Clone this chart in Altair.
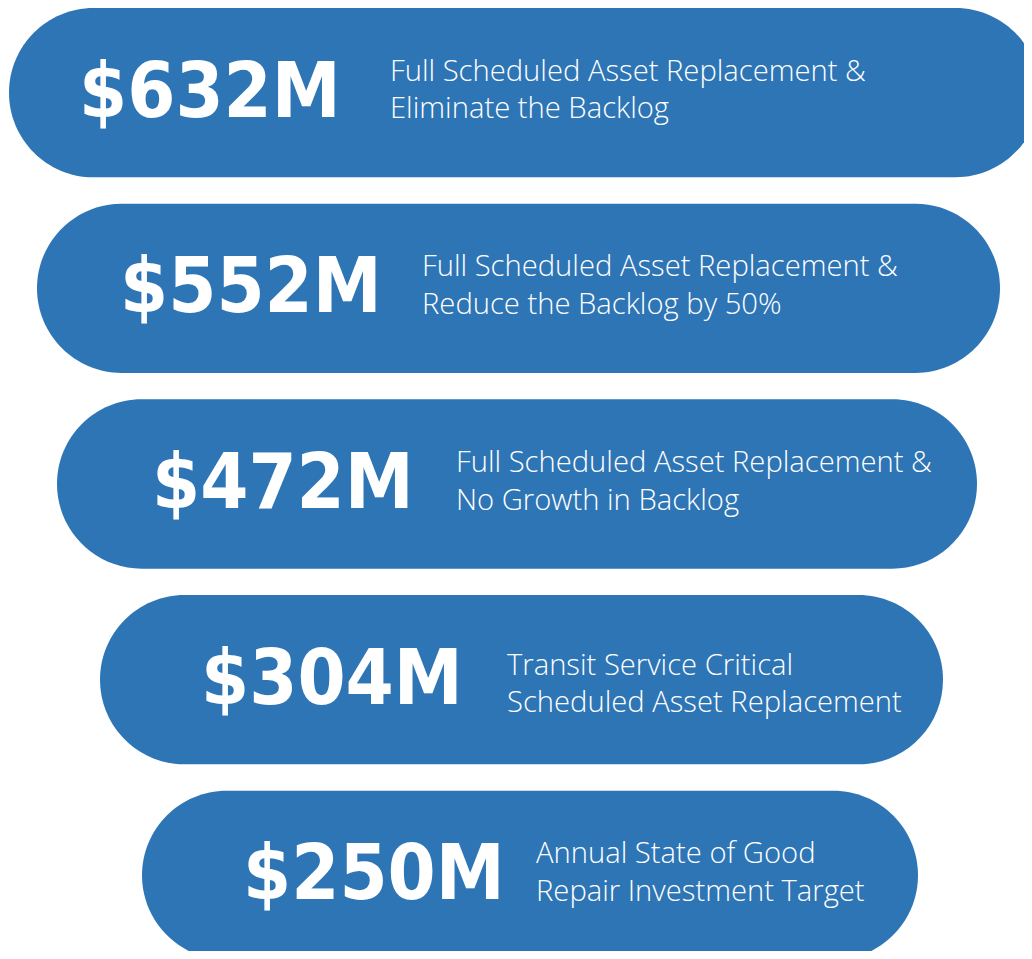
import altair as alt
import pandas as pd

# data
amounts = ["$632M", "$552M", "$472M", "$304M", "$250M"]
descriptions = [
    "Full Scheduled Asset Replacement &\nEliminate the Backlog",
    "Full Scheduled Asset Replacement &\nReduce the Backlog by 50%",
    "Full Scheduled Asset Replacement &\nNo Growth in Backlog",
    "Transit Service Critical\nScheduled Asset Replacement",
    "Annual State of Good\nRepair Investment Target",
]
rows = ["r1", "r2", "r3", "r4", "r5"]

# layout (page pixel units)
pill_left = [9, 37, 57, 100, 142]
pill_right = [1040, 1000, 977, 943, 918]
amount_x = [79, 120, 152, 201, 243]
desc_x = [390, 422, 456, 507, 536]

df = pd.DataFrame({
    "row": rows, "amount": amounts, "desc": descriptions,
    "left": pill_left, "right": pill_right, "ax": amount_x, "dx": desc_x,
})

BLUE = "#2E75B6"
xs = alt.Scale(domain=[8, 1032], range=[0, 1024])
ys = alt.Scale(domain=rows, range=[0, 952], paddingInner=0.135, paddingOuter=0)

base = alt.Chart(df)

pills = base.mark_bar(color=BLUE, cornerRadius=85, clip=True).encode(
    x=alt.X("left:Q", scale=xs, axis=None),
    x2="right:Q",
    y=alt.Y("row:N", scale=ys, axis=None),
)

vals = base.mark_text(
    align="left", baseline="middle", color="white",
    font="DejaVu Sans Condensed, DejaVu Sans", fontWeight="bold", fontSize=77, dy=1,
).encode(
    x=alt.X("ax:Q", scale=xs),
    y=alt.Y("row:N", scale=ys),
    text="amount:N",
)


def desc_layer(filt, dy):
    return base.transform_filter(filt).mark_text(
        align="left", baseline="middle", color="white",
        font="Open Sans", fontWeight=300, fontSize=29.2, lineBreak="\n",
        lineHeight=37.5, dy=dy,
    ).encode(
        x=alt.X("dx:Q", scale=xs),
        y=alt.Y("row:N", scale=ys),
        text="desc:N",
    )


descs_main = desc_layer("datum.row != 'r4'", -21)
descs_r4 = desc_layer("datum.row == 'r4'", -14)

chart = alt.layer(pills, vals, descs_main, descs_r4).properties(
    width=1016, height=943, padding=0, autosize=alt.AutoSizeParams(type="none"),
).configure_view(stroke=None)

chart.save("out.html", embed_options={"renderer": "svg", "actions": False})
